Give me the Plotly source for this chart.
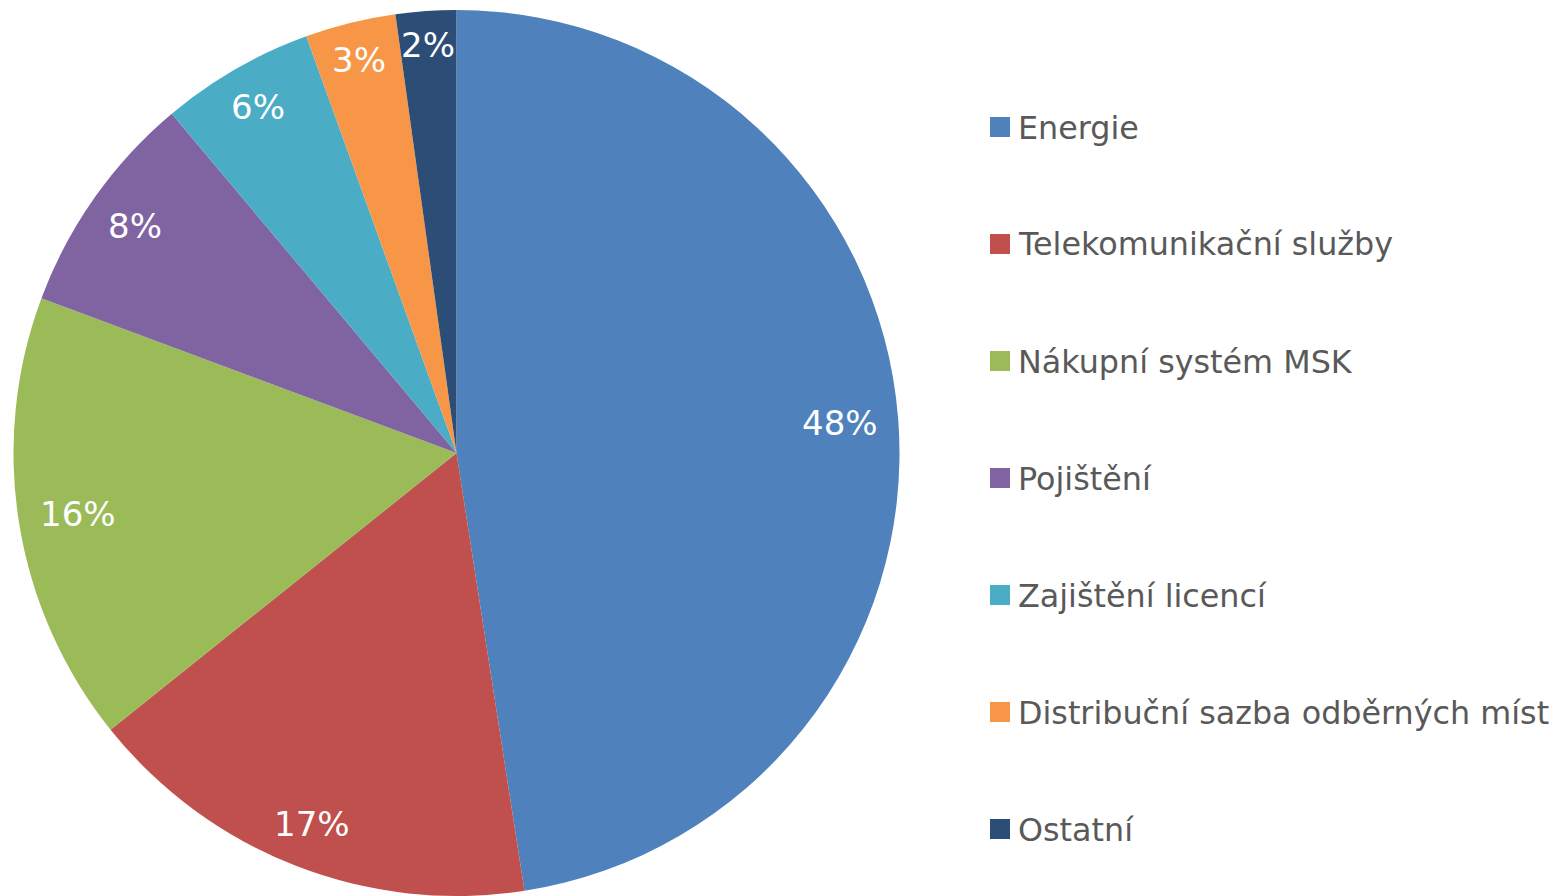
import numpy as np
import plotly.graph_objects as go

categories = [
    "Energie",
    "Telekomunikační služby",
    "Nákupní systém MSK",
    "Pojištění",
    "Zajištění licencí",
    "Distribuční sazba odběrných míst",
    "Ostatní",
]
shares = [47.5, 16.7, 16.4, 8.2, 5.6, 3.3, 2.2]
colors = ["#4F81BD", "#C0504D", "#9BBB59", "#8064A2", "#4BACC6", "#F79646", "#2C4D75"]

OFF = 8  # page body margin shifts the figure by 8px
W, H = 1567 - OFF, 896 - OFF
M_T, M_B = 2, 0
plot_h = H - M_T - M_B
radius = plot_h / 2
cx = 448.5
cy = M_T + radius


def xp(px):
    return px / W


def yp(py):
    return (H - M_B - py) / plot_h


fig = go.Figure(
    go.Pie(
        labels=categories,
        values=shares,
        marker=dict(colors=colors, line=dict(width=0)),
        sort=False,
        direction="clockwise",
        rotation=0,
        textinfo="none",
        hoverinfo="label+percent",
        showlegend=False,
        domain=dict(x=[0, 2 * cx / W], y=[0, 1]),
    )
)

# percentage labels, pushed out toward the rim of each slice
LABEL_SIZE = 34
vals = np.array(shares)
pct = vals / vals.sum()
mid = (np.cumsum(pct) - pct / 2) * 2 * np.pi
annotations = []
for p, a in zip(pct, mid):
    txt = f"{p * 100:.0f}%"
    half_w = (20 * (len(txt) - 1) + 36) / 2
    half_h = 12
    dx, dy = np.sin(a), -np.cos(a)
    r = radius - 20 - (half_w * abs(dx) + half_h * abs(dy))
    annotations.append(dict(
        x=xp(cx + r * dx), y=yp(cy + r * dy), xref="paper", yref="paper",
        text=txt, showarrow=False,
        font=dict(family="DejaVu Sans", size=LABEL_SIZE, color="white"),
        xanchor="center", yanchor="middle",
    ))

# legend drawn on the right, one row per category
shapes = []
row0, step = 127 - OFF, 117
for i, (name, col) in enumerate(zip(categories, colors)):
    ry = row0 + i * step
    shapes.append(dict(
        type="rect", xref="paper", yref="paper",
        x0=xp(990 - OFF), x1=xp(1010 - OFF),
        y0=yp(ry + 10), y1=yp(ry - 10),
        fillcolor=col, line=dict(width=0),
    ))
    annotations.append(dict(
        x=xp(1016 - OFF), y=yp(ry), xref="paper", yref="paper",
        text=name, showarrow=False,
        font=dict(family="DejaVu Sans", size=31.8, color="#595959"),
        xanchor="left", yanchor="middle",
    ))

fig.update_layout(
    width=W,
    height=H,
    margin=dict(l=0, r=0, t=M_T, b=M_B),
    paper_bgcolor="white",
    plot_bgcolor="white",
    annotations=annotations,
    shapes=shapes,
)

fig.write_html("out.html")
